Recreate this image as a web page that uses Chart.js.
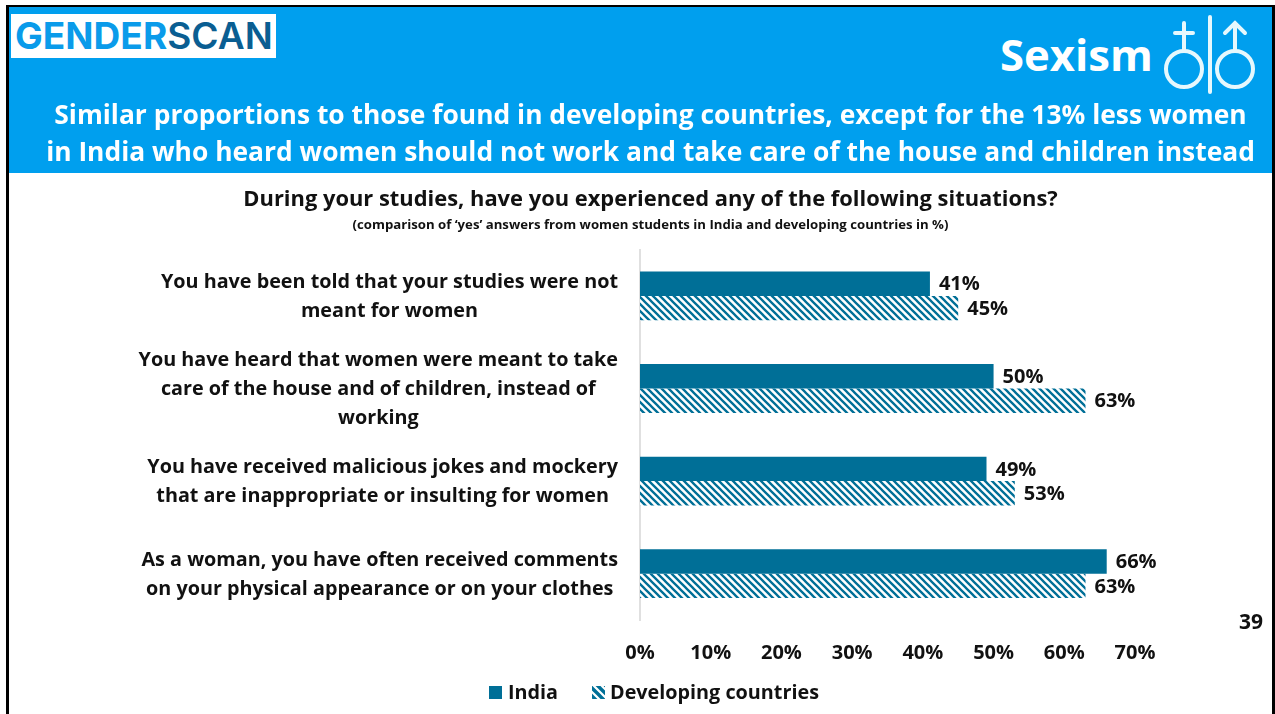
<!DOCTYPE html>
<html>
<head>
<meta charset="utf-8">
<title>Sexism</title>
<script src="https://cdn.jsdelivr.net/npm/chart.js@4"></script>
<style>
    html, body { margin: 0; padding: 0; background: #fff; overflow: hidden; }
    #page { position: relative; width: 1275px; height: 714px; overflow: hidden; font-family: "Open Sans", sans-serif; }
    #chart { position: absolute; left: 0; top: 0; }
    #banner { position: absolute; left: 6px; top: 5px; width: 1266px; height: 168px; background: #009fee; border-top: 2px solid #000; box-sizing: border-box; }
    #edgeLeft { position: absolute; left: 6px; top: 5px; width: 3px; height: 709px; background: #000; }
    #edgeRight { position: absolute; left: 1272px; top: 5px; width: 3px; height: 709px; background: #000; }
    #logo { position: absolute; left: 11px; top: 14px; width: 265px; height: 44px; background: #fff; font: 700 37px Inter, sans-serif; line-height: 44px; letter-spacing: 0.05px; text-indent: 4px; color: #0a9bea; white-space: nowrap; }
    #logo span { color: #0a5e92; font-weight: 600; }
    #topic { position: absolute; left: 1000px; top: 26px; color: #fff; font: 700 43.6px "Open Sans", sans-serif; line-height: 56px; white-space: nowrap; }
    #symbols { position: absolute; left: 1160px; top: 12px; }
    .headline { position: absolute; left: 19px; width: 1263px; text-align: center; color: #fff; font: 700 26.4px "Open Sans", sans-serif; white-space: nowrap; line-height: 36px; }
    #pageNo { position: absolute; left: 1239px; top: 607px; font: 700 21px "Open Sans", sans-serif; color: #111; }
</style>
</head>
<body>
<div id="page">
    <canvas id="chart" width="1275" height="714"></canvas>
    <div id="banner"></div>
    <div id="edgeLeft"></div>
    <div id="edgeRight"></div>
    <div id="logo">GENDER<span>SCAN</span></div>
    <div id="topic">Sexism</div>
    <svg id="symbols" width="100" height="85" fill="none" stroke="#e6f8fd" stroke-width="4" stroke-linecap="round">
        <circle cx="24" cy="57" r="18"/>
        <path d="M24 39V11M15 21H33"/>
        <path d="M50 5V80"/>
        <circle cx="75" cy="57" r="18"/>
        <path d="M75 39V11M65 21L75 11L85 21"/>
    </svg>
    <div class="headline" style="top:96px">Similar proportions to those found in developing countries, except for the 13% less women</div>
    <div class="headline" style="top:133px">in India who heard women should not work and take care of the house and children instead</div>
    <div id="pageNo">39</div>
</div>

<script>
const categories = [
    ["You have been told that your studies were not", "meant for women"],
    ["You have heard that women were meant to take", "care of the house and of children, instead of", "working"],
    ["You have received malicious jokes and mockery", "that are inappropriate or insulting for women"],
    ["As a woman, you have often received comments", "on your physical appearance or on your clothes"]
];
const indiaValues = [41, 50, 49, 66];
const developingValues = [45, 63, 53, 63];
const xTicks = [0, 10, 20, 30, 40, 50, 60, 70];

const TEAL = "#006f97";

// diagonal hatch for the second series
function hatchPattern(size, width) {
    const tile = document.createElement("canvas");
    tile.width = size;
    tile.height = size;
    const c = tile.getContext("2d");
    c.fillStyle = "#fff";
    c.fillRect(0, 0, size, size);
    c.strokeStyle = TEAL;
    c.lineWidth = width;
    c.beginPath();
    c.moveTo(-size, 0); c.lineTo(size, size * 2);
    c.moveTo(0, 0); c.lineTo(size, size);
    c.moveTo(0, -size); c.lineTo(size * 2, size);
    c.stroke();
    return c.createPattern(tile, "repeat");
}

// percent label just past the end of every bar
const barLabels = {
    id: "barLabels",
    afterDatasetsDraw(chart) {
        const ctx = chart.ctx;
        ctx.save();
        ctx.font = "700 20px 'Open Sans', sans-serif";
        ctx.fillStyle = "#111";
        ctx.textAlign = "left";
        ctx.textBaseline = "middle";
        chart.data.datasets.forEach((ds, i) => {
            chart.getDatasetMeta(i).data.forEach((bar, j) => {
                ctx.fillText(ds.data[j] + "%", bar.x + 9, bar.y + 1);
            });
        });
        ctx.restore();
    }
};

// category text: each block is centred on itself and right-aligned against the axis
const categoryLabels = {
    id: "categoryLabels",
    afterDraw(chart) {
        const ctx = chart.ctx;
        const y = chart.scales.y;
        const rightEdge = 618;
        const lineHeight = 29;
        ctx.save();
        ctx.font = "700 19.8px 'Open Sans', sans-serif";
        ctx.fillStyle = "#111";
        ctx.textAlign = "center";
        ctx.textBaseline = "middle";
        categories.forEach((lines, i) => {
            const widest = Math.max(...lines.map(l => ctx.measureText(l).width));
            const cx = rightEdge - widest / 2;
            const cy = y.getPixelForValue(i) + 1;
            lines.forEach((line, k) => {
                ctx.fillText(line, cx, cy + (k - (lines.length - 1) / 2) * lineHeight);
            });
        });
        ctx.restore();
    }
};

// legend row with a tight gap between swatch and text
const legendRow = {
    id: "legendRow",
    afterDraw(chart) {
        const ctx = chart.ctx;
        const swatches = [TEAL, hatchPattern(8, 3.4)];
        const boxX = [489, 592];
        const textX = [508, 610];
        ctx.save();
        ctx.font = "700 19.8px 'Open Sans', sans-serif";
        ctx.textAlign = "left";
        ctx.textBaseline = "middle";
        chart.data.datasets.forEach((ds, i) => {
            ctx.fillStyle = swatches[i];
            ctx.fillRect(boxX[i], 686, 13, 13);
            ctx.fillStyle = "#111";
            ctx.fillText(ds.label, textX[i], 693);
        });
        ctx.restore();
    }
};

new Chart(document.getElementById("chart"), {
    type: "bar",
    data: {
        labels: categories,
        datasets: [
            { label: "India", data: indiaValues, backgroundColor: TEAL },
            { label: "Developing countries", data: developingValues, backgroundColor: hatchPattern(7, 2.3) }
        ]
    },
    options: {
        indexAxis: "y",
        responsive: false,
        animation: false,
        categoryPercentage: 0.527,
        barPercentage: 1,
        layout: { padding: { left: 166, right: 140, top: 186.5, bottom: 28 } },
        scales: {
            x: {
                min: 0,
                max: 70,
                afterBuildTicks(axis) {
                    axis.ticks = xTicks.map(v => ({ value: v }));
                },
                grid: { display: false, drawTicks: false },
                border: { display: false },
                ticks: {
                    padding: 21,
                    maxRotation: 0,
                    color: "#111",
                    font: { family: "'Open Sans', sans-serif", size: 20, weight: "700" },
                    callback: v => v + "%"
                }
            },
            y: {
                afterFit(axis) { axis.width = 474; },
                grid: { display: false, drawTicks: false },
                border: { color: "#e0e0e0", width: 2 },
                ticks: { display: false }
            }
        },
        plugins: {
            title: {
                display: true,
                text: "During your studies, have you experienced any of the following situations?",
                color: "#111",
                font: { family: "'Open Sans', sans-serif", size: 21.9, weight: "700" },
                padding: { top: 0, bottom: 5 }
            },
            subtitle: {
                display: true,
                text: "(comparison of ‘yes’ answers from women students in India and developing countries in %)",
                color: "#111",
                font: { family: "'Open Sans', sans-serif", size: 13.2, weight: "700" },
                padding: { top: 0, bottom: 16 }
            },
            legend: { display: false },
            tooltip: { enabled: false }
        }
    },
    plugins: [barLabels, categoryLabels, legendRow]
});
</script>
</body>
</html>
